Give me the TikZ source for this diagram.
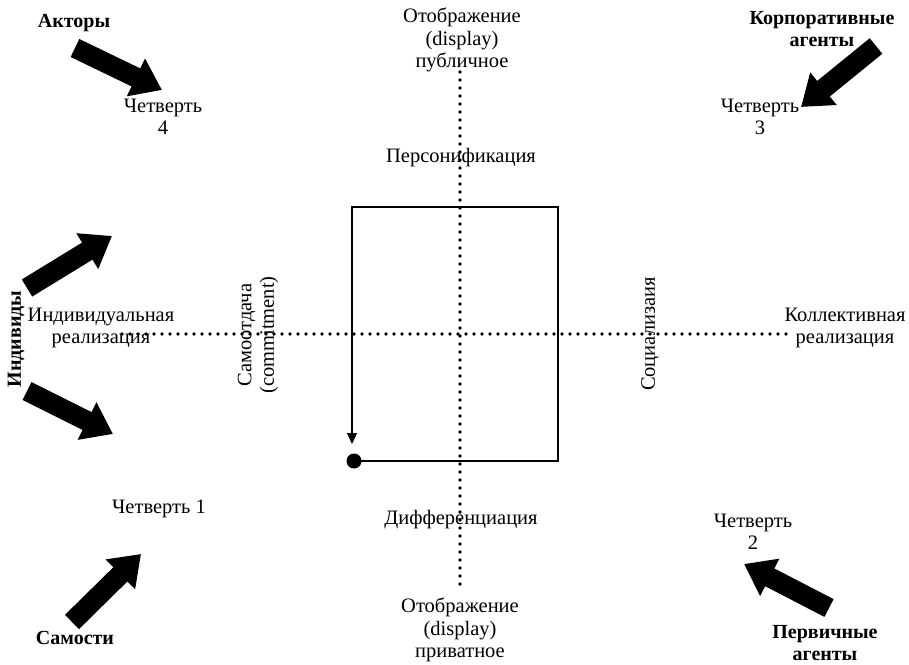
\documentclass[tikz,border=0pt]{standalone}
\usepackage{fontspec}
\setmainfont{Liberation Serif}
\usetikzlibrary{arrows.meta}
\begin{document}
\begin{tikzpicture}[x=1pt,y=-1pt,
  lbl/.style={font=\fontsize{20.5}{22.5}\selectfont, align=center, inner sep=0pt},
  blbl/.style={font=\fontsize{20}{22}\selectfont\bfseries, align=center, inner sep=0pt},
  dotline/.style={line width=3.6pt, line cap=round, dash pattern=on 0pt off 8pt},
  bigarrow/.style={line width=20pt, -{Triangle[length=29pt,width=40pt]}},
  thinline/.style={line width=1.2pt, -{Triangle[length=11pt,width=10pt]}}]
\useasboundingbox (0,0) rectangle (909,664);
% dotted axes
\coordinate (vtop) at (460,72);
\coordinate (vbot) at (460,584);
\coordinate (hl) at (122,334);
\coordinate (hr) at (790,334);
\draw[dotline] (vtop) -- (vbot);
\draw[dotline] (hl) -- (hr);
% box connector
\node[circle, fill, inner sep=0pt, minimum size=15pt] (dot) at (354,461) {};
\coordinate (br) at (558,461);
\coordinate (tr) at (558,207);
\coordinate (tl) at (352,207);
\coordinate (al) at (352,444);
\draw[thinline] (dot.center) -- (br) -- (tr) -- (tl) -- (al);
% axis labels
\node[lbl] (pub) at (462,40) {Отображение\\(display)\\публичное};
\node[lbl] (priv) at (460,630) {Отображение\\(display)\\приватное};
\node[lbl] (pers) at (461,158) {Персонификация};
\node[lbl] (diff) at (461,520) {Дифференциация};
\node[lbl] (indr) at (101,328) {Индивидуальная\\реализация};
\node[lbl] (kolr) at (845,328) {Коллективная\\реализация};
\node[lbl, rotate=90] (samo) at (258,335) {Самоотдача\\(commitment)};
\node[lbl, rotate=90] (soc) at (650,334) {Социализаия};
% quarters
\node[lbl] (q4) at (163,117) {Четверть\\4};
\node[lbl] (q3) at (760,117) {Четверть\\3};
\node[lbl] (q1) at (159,509) {Четверть 1};
\node[lbl] (q2) at (753,532) {Четверть\\2};
% bold labels
\node[blbl] (akt) at (74,23) {Акторы};
\node[blbl] (korp) at (822,29) {Корпоративные\\агенты};
\node[blbl, rotate=90] (ind) at (16,339) {Индивиды};
\node[blbl] (sam) at (75,638) {Самости};
\node[blbl] (perv) at (825,643) {Первичные\\агенты};
% block arrows
\coordinate (a1t) at (75,48);   \coordinate (a1h) at (162,90);
\coordinate (a2t) at (876,46);  \coordinate (a2h) at (801,107);
\coordinate (a3t) at (27,288);  \coordinate (a3h) at (112,236);
\coordinate (a4t) at (27,391);  \coordinate (a4h) at (113,434);
\coordinate (a5t) at (72,622);  \coordinate (a5h) at (141,554);
\coordinate (a6t) at (829,608); \coordinate (a6h) at (744,564);
\draw[bigarrow] (a1t) -- (a1h);
\draw[bigarrow] (a2t) -- (a2h);
\draw[bigarrow] (a3t) -- (a3h);
\draw[bigarrow] (a4t) -- (a4h);
\draw[bigarrow] (a5t) -- (a5h);
\draw[bigarrow] (a6t) -- (a6h);
\end{tikzpicture}
\end{document}
